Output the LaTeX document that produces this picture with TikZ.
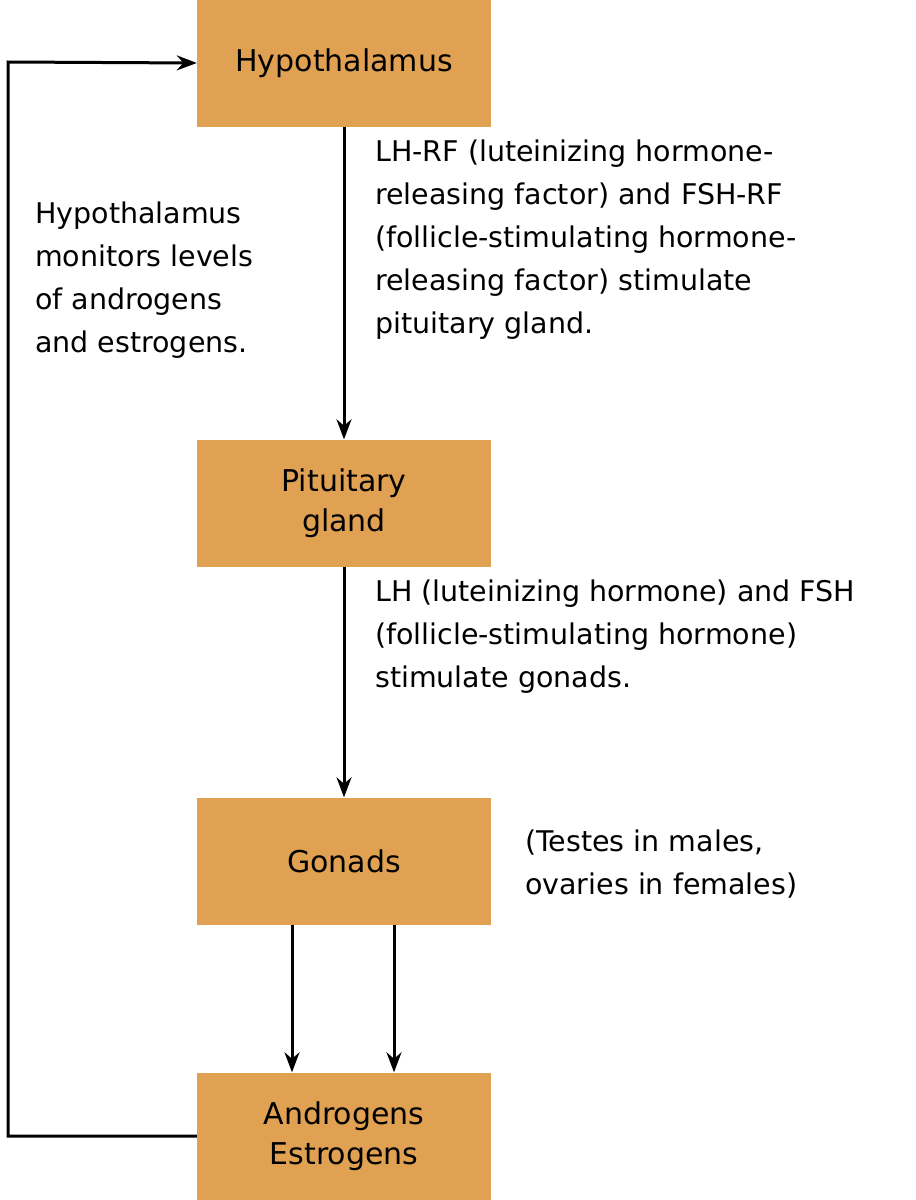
\documentclass[tikz,border=0pt]{standalone}
\usepackage{fontspec}
\setmainfont{DejaVu Sans}
\usetikzlibrary{positioning,arrows.meta}
\definecolor{boxOrange}{RGB}{224,162,82}

\tikzset{
  organ/.style={fill=boxOrange, minimum width=294pt, minimum height=127pt,
    inner sep=0pt, align=center, font=\fontsize{30}{40}\selectfont},
  note/.style={anchor=north west, align=left, inner sep=0pt,
    font=\fontsize{28.5}{43}\selectfont},
  flow/.style={line width=3pt, -{Stealth[length=20pt,width=15pt]}},
}

\begin{document}
\begin{tikzpicture}[x=1pt, y=-1pt]
  \useasboundingbox (0,0) rectangle (916,1200);

  \node[organ] (hypo) at (344,63) {Hypothalamus};
  \node[organ] (pit) at (344,503) {Pituitary\\gland};
  \node[organ] (gon) at (344,861) {Gonads};
  \node[organ] (hor) at (344,1136) {Androgens\\Estrogens};

  \draw[flow] (hypo.south) -- (pit.north);
  \draw[flow] (pit.south) -- (gon.north);
  \draw[flow] ([xshift=-52pt]gon.south) -- ([xshift=-52pt]hor.north);
  \draw[flow] ([xshift=50pt]gon.south) -- ([xshift=50pt]hor.north);

  \coordinate (lowcorner) at (8,1136);
  \coordinate (highcorner) at (8,62);
  \draw[flow] (hor.west) -- (lowcorner) -- (highcorner) -- (hypo.west);

  \node[note] (monitor) at (35,202) {Hypothalamus\\monitors levels\\of androgens\\and estrogens.};
  \node[note] (releasing) at (375,140) {LH-RF (luteinizing hormone-\\releasing factor) and FSH-RF\\(follicle-stimulating hormone-\\releasing factor) stimulate\\pituitary gland.};
  \node[note] (stimulate) at (375,580) {LH (luteinizing hormone) and FSH\\(follicle-stimulating hormone)\\stimulate gonads.};
  \node[note] (testes) at (525,830) {(Testes in males,\\ovaries in females)};
\end{tikzpicture}
\end{document}
